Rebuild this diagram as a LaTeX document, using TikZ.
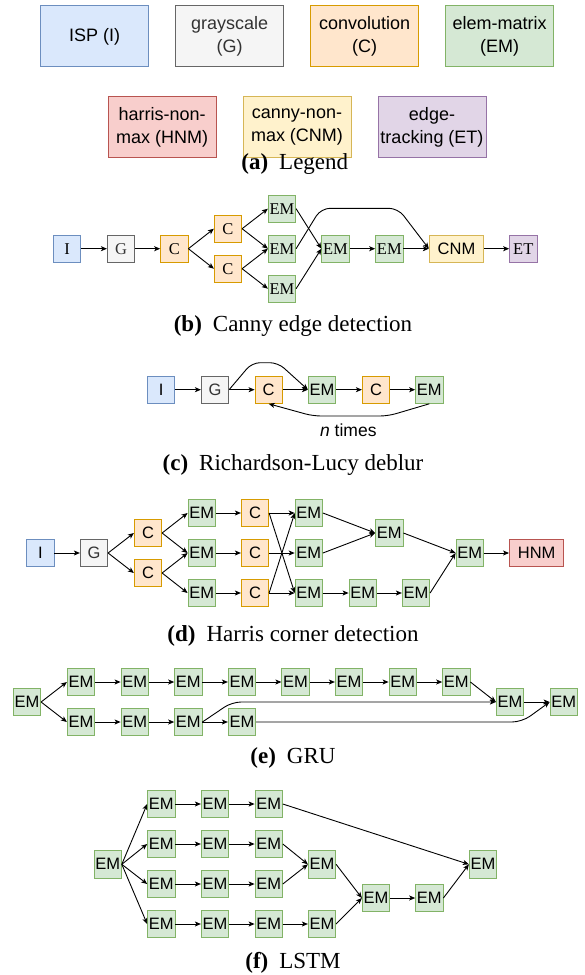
\documentclass[tikz,border=0pt]{standalone}
\usepackage{fontspec}
\setmainfont{Liberation Serif}
\setsansfont{Liberation Sans}
\usetikzlibrary{arrows.meta}
\definecolor{blueF}{HTML}{DAE8FC}\definecolor{blueD}{HTML}{6C8EBF}
\definecolor{grayF}{HTML}{F5F5F5}\definecolor{grayD}{HTML}{666666}\definecolor{grayT}{HTML}{333333}
\definecolor{orF}{HTML}{FFE6CC}\definecolor{orD}{HTML}{D79B00}
\definecolor{grF}{HTML}{D5E8D4}\definecolor{grD}{HTML}{82B366}
\definecolor{redF}{HTML}{F8CECC}\definecolor{redD}{HTML}{B85450}
\definecolor{yeF}{HTML}{FFF2CC}\definecolor{yeD}{HTML}{D6B656}
\definecolor{puF}{HTML}{E1D5E7}\definecolor{puD}{HTML}{9673A6}
\begin{document}
\begin{tikzpicture}[x=1pt,y=-1pt,
  bx/.style={draw, line width=0.9pt, minimum width=27.3pt, minimum height=27.3pt, inner sep=0pt, font=\sffamily\fontsize{16.5}{19}\selectfont},
  sbx/.style={bx, font=\rmfamily\fontsize{16.5}{19}\selectfont},
  wide/.style={minimum width=54.4pt},
  kI/.style={fill=blueF, draw=blueD},
  kG/.style={fill=grayF, draw=grayD, text=grayT},
  kC/.style={fill=orF, draw=orD},
  kE/.style={fill=grF, draw=grD},
  kH/.style={fill=redF, draw=redD},
  kN/.style={fill=yeF, draw=yeD},
  kT/.style={fill=puF, draw=puD},
  lg/.style={draw, line width=0.9pt, minimum width=108pt, minimum height=61pt, inner sep=0pt, align=center, font=\sffamily\fontsize{18}{23}\selectfont},
  arr/.style={line width=0.9pt, -{Stealth[length=6pt,width=5pt,inset=1.5pt]}},
  capt/.style={anchor=base, font=\rmfamily\fontsize{23}{27}\selectfont}
]
\useasboundingbox (0,0) rectangle (584,975);

% ---------- (a) Legend
\node[lg, kI] (lI) at (94.7,36.4) {ISP (I)};
\node[lg, kG] (lG) at (229.7,36.4) {grayscale\\(G)};
\node[lg, kC] (lC) at (364.7,36.4) {convolution\\(C)};
\node[lg, kE] (lE) at (499.7,36.4) {elem-matrix\\(EM)};
\node[lg, kH] (lH) at (162.2,127) {harris-non-\\max (HNM)};
\node[lg, kN] (lN) at (297,127) {canny-non-\\max (CNM)};
\node[lg, kT] (lT) at (432,127) {edge-\\tracking (ET)};
\node[capt] (capa) at (294.8,169.4) {\textbf{(a)}\hspace{11pt}Legend};

% ---------- (b) Canny
\node[sbx, kI] (cI) at (67,248.7) {I};
\node[sbx, kG] (cG) at (121,248.7) {G};
\node[sbx, kC] (cC1) at (174.3,248.7) {C};
\node[sbx, kC] (cC2) at (228,228.7) {C};
\node[sbx, kC] (cC3) at (228,268.7) {C};
\node[sbx, kE] (cE1) at (282,208.7) {EM};
\node[sbx, kE] (cE2) at (282,248.7) {EM};
\node[sbx, kE] (cE3) at (282,288.7) {EM};
\node[sbx, kE] (cE4) at (335.5,248.7) {EM};
\node[sbx, kE] (cE5) at (389.3,248.7) {EM};
\node[bx, wide, kN] (cN) at (456.5,248.7) {CNM};
\node[sbx, kT] (cT) at (523.3,248.7) {ET};
\draw[arr] (cI) -- (cG);
\draw[arr] (cG) -- (cC1);
\draw[arr] (cC1.east) -- (cC2.west);
\draw[arr] (cC1.east) -- (cC3.west);
\draw[arr] (cC2.east) -- (cE1.west);
\draw[arr] (cC2.east) -- (cE2.west);
\draw[arr] (cC3.east) -- (cE2.west);
\draw[arr] (cC3.east) -- (cE3.west);
\draw[arr] (cE1.east) -- (cE4.west);
\draw[arr] (cE3.east) -- (cE4.west);
\draw[arr] (cE4) -- (cE5);
\draw[arr] (cE5) -- (cN);
\draw[arr] (cN) -- (cT);
\draw[arr, rounded corners=9pt] (cE2.east) -- (321,208.3) -- (398,208.3) -- (cN.west);
\node[capt] (capb) at (293,331) {\textbf{(b)}\hspace{11pt}Canny edge detection};

% ---------- (c) Richardson-Lucy
\node[bx, kI] (rI) at (161.2,389.7) {I};
\node[bx, kG] (rG) at (215,389.7) {G};
\node[bx, kC] (rC1) at (268.7,389.7) {C};
\node[bx, kE] (rE1) at (322,389.7) {EM};
\node[bx, kC] (rC2) at (376,389.7) {C};
\node[bx, kE] (rE2) at (429.3,389.7) {EM};
\draw[arr] (rI) -- (rG);
\draw[arr] (rG) -- (rC1);
\draw[arr] (rC1) -- (rE1);
\draw[arr] (rE1) -- (rC2);
\draw[arr] (rC2) -- (rE2);
\draw[arr, rounded corners=8pt] (rG.east) -- (252,362.7) -- (278,362.7) -- (rE1.west);
\draw[arr, rounded corners=8pt] (rE2.south) -- (388,416) -- (313,416) -- (rC1.south);
\node[font=\sffamily\fontsize{17.5}{20}\selectfont] (ntimes) at (348.3,430.7) {\textit{n} times};
\node[capt] (capc) at (293,470) {\textbf{(c)}\hspace{11pt}Richardson-Lucy deblur};

% ---------- (d) Harris
\node[bx, kI] (hI) at (40.3,553) {I};
\node[bx, kG] (hG) at (94,553) {G};
\node[bx, kC] (hC1) at (148,533) {C};
\node[bx, kC] (hC2) at (148,573) {C};
\node[bx, kE] (hE1) at (201.7,513) {EM};
\node[bx, kE] (hE2) at (201.7,553) {EM};
\node[bx, kE] (hE3) at (201.7,593) {EM};
\node[bx, kC] (hC3) at (255,513) {C};
\node[bx, kC] (hC4) at (255,553) {C};
\node[bx, kC] (hC5) at (255,593) {C};
\node[bx, kE] (hE4) at (308.8,513) {EM};
\node[bx, kE] (hE5) at (308.8,553) {EM};
\node[bx, kE] (hE6) at (308.8,593) {EM};
\node[bx, kE] (hE7) at (389.3,533) {EM};
\node[bx, kE] (hE8) at (362.7,593) {EM};
\node[bx, kE] (hE9) at (416,593) {EM};
\node[bx, kE] (hE10) at (469.7,553) {EM};
\node[bx, wide, kH] (hH) at (536.7,553) {HNM};
\draw[arr] (hI) -- (hG);
\draw[arr] (hG.east) -- (hC1.west);
\draw[arr] (hG.east) -- (hC2.west);
\draw[arr] (hC1.east) -- (hE1.west);
\draw[arr] (hC1.east) -- (hE2.west);
\draw[arr] (hC2.east) -- (hE2.west);
\draw[arr] (hC2.east) -- (hE3.west);
\draw[arr] (hE1) -- (hC3);
\draw[arr] (hE2) -- (hC4);
\draw[arr] (hE3) -- (hC5);
\draw[arr] (hC3.east) -- (hE4.west);
\draw[arr] (hC3.east) -- (hE6.west);
\draw[arr] (hC4.east) -- (hE5.west);
\draw[arr] (hC5.east) -- (hE4.west);
\draw[arr] (hC5.east) -- (hE6.west);
\draw[arr] (hE4.east) -- (hE7.west);
\draw[arr] (hE5.east) -- (hE7.west);
\draw[arr] (hE7.east) -- (hE10.west);
\draw[arr] (hE6) -- (hE8);
\draw[arr] (hE8) -- (hE9);
\draw[arr] (hE9.east) -- (hE10.west);
\draw[arr] (hE10) -- (hH);
\node[capt] (capd) at (293,641.4) {\textbf{(d)}\hspace{11pt}Harris corner detection};

% ---------- (e) GRU
\node[bx, kE] (g0) at (27,702) {EM};
\foreach \i/\x in {1/81,2/134.7,3/188.3,4/242,5/295.5,6/349,7/402.7,8/456.3}
  \node[bx, kE] (gt\i) at (\x,682) {EM};
\foreach \i/\x in {1/81,2/134.7,3/188.3,4/242}
  \node[bx, kE] (gb\i) at (\x,722) {EM};
\node[bx, kE] (gm) at (510,702) {EM};
\node[bx, kE] (gf) at (563.7,702) {EM};
\draw[arr] (g0.east) -- (gt1.west);
\draw[arr] (g0.east) -- (gb1.west);
\foreach \a/\b in {1/2,2/3,3/4,4/5,5/6,6/7,7/8}
  \draw[arr] (gt\a) -- (gt\b);
\foreach \a/\b in {1/2,2/3,3/4}
  \draw[arr] (gb\a) -- (gb\b);
\draw[arr] (gt8.east) -- (gm.west);
\draw[arr] (gm) -- (gf);
\draw[arr, rounded corners=9pt] (gb3.east) -- (232,702) -- (gm.west);
\draw[arr, rounded corners=10pt] (gb4.east) -- (522,722) -- (gf.west);
\node[capt] (cape) at (293,763.5) {\textbf{(e)}\hspace{11pt}GRU};

% ---------- (f) LSTM
\node[bx, kE] (l0) at (107.7,864.3) {EM};
\foreach \r/\y in {1/804,2/844,3/884,4/924}{
  \foreach \c/\x in {1/161.3,2/215,3/268.7}
    \node[bx, kE] (l\r\c) at (\x,\y) {EM};
  \draw[arr] (l0.east) -- (l\r1.west);
  \draw[arr] (l\r1) -- (l\r2);
  \draw[arr] (l\r2) -- (l\r3);
}
\node[bx, kE] (la) at (322,864.3) {EM};
\node[bx, kE] (lb) at (322,924) {EM};
\node[bx, kE] (lc) at (376,898) {EM};
\node[bx, kE] (ld) at (429.3,898) {EM};
\node[bx, kE] (lf) at (483,864.3) {EM};
\draw[arr] (l13.east) -- (lf.west);
\draw[arr] (l23.east) -- (la.west);
\draw[arr] (l33.east) -- (la.west);
\draw[arr] (l43) -- (lb);
\draw[arr] (la.east) -- (lc.west);
\draw[arr] (lb.east) -- (lc.west);
\draw[arr] (lc) -- (ld);
\draw[arr] (ld.east) -- (lf.west);
\node[capt] (capf) at (293,968) {\textbf{(f)}\hspace{11pt}LSTM};
\end{tikzpicture}
\end{document}
